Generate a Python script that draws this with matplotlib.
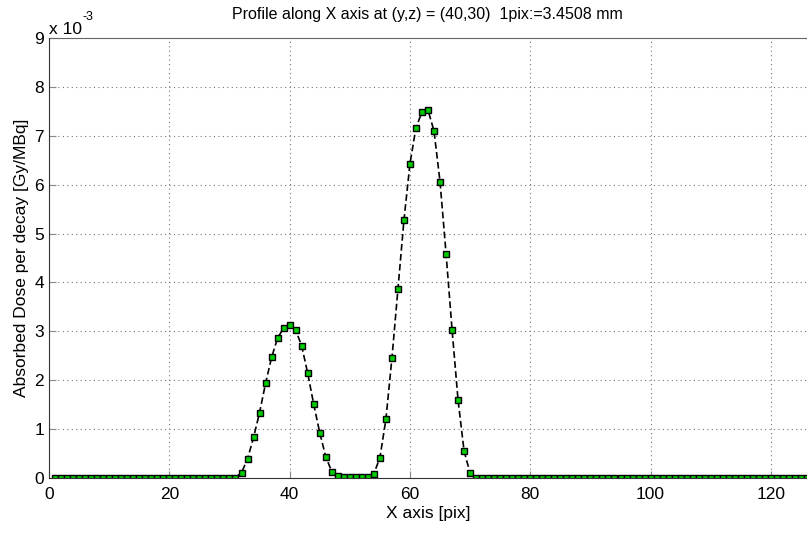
import matplotlib.pyplot as plt
import numpy as np

plt.rcParams['font.family'] = ['Liberation Sans', 'DejaVu Sans']

# profile values (x 1e-3 Gy/MBq), x = 1..128 pix
x_pix = np.arange(1, 129)
peak1_x = [32, 33, 34, 35, 36, 37, 38, 39, 40, 41, 42, 43, 44, 45, 46, 47, 48,
           49, 50, 51, 52, 53]
peak1_y = [0.10, 0.38, 0.82, 1.33, 1.93, 2.46, 2.86, 3.06, 3.12, 3.02, 2.70,
           2.14, 1.50, 0.92, 0.43, 0.12, 0.03, 0.01, 0.01, 0.01, 0.01, 0.01]
peak2_x = [54, 55, 56, 57, 58, 59, 60, 61, 62, 63, 64, 65, 66, 67, 68, 69, 70]
peak2_y = [0.08, 0.40, 1.19, 2.44, 3.86, 5.27, 6.43, 7.17, 7.49, 7.53, 7.10,
           6.06, 4.59, 3.03, 1.58, 0.54, 0.09]

dose = np.zeros(len(x_pix))
for xs, ys in ((peak1_x, peak1_y), (peak2_x, peak2_y)):
    for xv, yv in zip(xs, ys):
        dose[xv - 1] = yv
dose = dose * 1e-3

fig = plt.figure(figsize=(8.07, 5.34), dpi=100)
ax = fig.add_axes([49 / 807, (534 - 477.5) / 534, (807 - 49) / 807, (477.5 - 38.3) / 534])

ax.plot(x_pix, dose, color='black', linestyle=(0, (4, 2)), linewidth=1.2,
        marker='s', markersize=4.2, markerfacecolor='#00cc00',
        markeredgecolor='black', markeredgewidth=1.0)

ax.set_xlim(0, 126)
ax.set_ylim(0, 9e-3)
ax.set_xticks(np.arange(0, 121, 20))
ax.set_yticks(np.arange(0, 10) * 1e-3)
ax.set_yticklabels([str(i) for i in range(10)])
ax.grid(True, linestyle=(0, (1, 3)), color='#777777', linewidth=0.8)
ax.tick_params(direction='in', length=5, color='#888888', labelsize=12.5,
               labelcolor='black', top=False, right=False)
ax.tick_params(axis='x', pad=7)
for s in ['top', 'right']:
    ax.spines[s].set_visible(False)
for s in ['left', 'bottom']:
    ax.spines[s].set_color('#333333')
ax.plot([0, 1], [1, 1], transform=ax.transAxes, color='#666666', linewidth=0.8,
        clip_on=False)

ax.text(0.0, 1.004, 'x 10', transform=ax.transAxes, fontsize=12.5,
        ha='left', va='bottom')
ax.text(0.044, 1.035, '-3', transform=ax.transAxes, fontsize=9,
        ha='left', va='bottom')

ax.set_xlabel('X axis [pix]', fontsize=12.5, labelpad=3)
ax.set_ylabel('Absorbed Dose per decay [Gy/MBq]', fontsize=12.5, labelpad=4)
fig.text(0.53, 0.972, 'Profile along X axis at (y,z) = (40,30)  1pix:=3.4508 mm',
         fontsize=11.5, ha='center', va='center')

fig.savefig('out.png', dpi=100)
